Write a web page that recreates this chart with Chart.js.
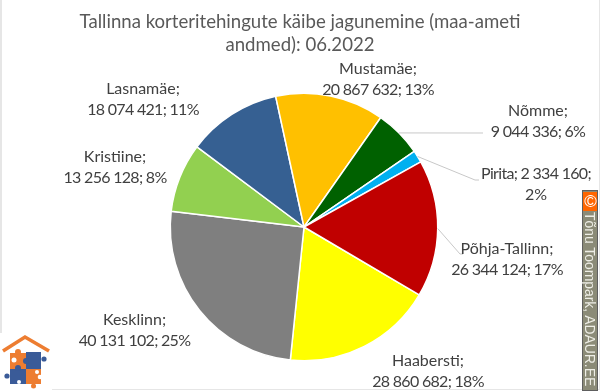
<!DOCTYPE html>
<html>
<head>
<meta charset="utf-8">
<script src="https://cdn.jsdelivr.net/npm/chart.js@4"></script>
<style>
  html, body { margin: 0; padding: 0; background: #fff; }
  #wrap { position: relative; width: 600px; height: 392px; overflow: hidden; }
  #frame { position: absolute; left: 0; top: 0; width: 597px; height: 389px; border-left: 2px solid #e6e6e6; border-right: 1px solid #e6e6e6; border-bottom: 1px solid #e6e6e6; pointer-events: none; }
  #logo { position: absolute; left: 0; top: 333px; }
  #strip { position: absolute; left: 582px; top: 190px; width: 14px; height: 199px; border: 1px solid #5f5f5f; background: #8b8b77; }
  #strip .mark { position: absolute; left: 0; top: 1px; width: 14px; height: 19px; background: #ff6600; color: #fff; font: 17px/14px "Liberation Sans", sans-serif; writing-mode: vertical-rl; text-align: center; }
  #strip .name { position: absolute; left: 0; top: 21px; width: 14px; height: 178px; color: #eeeee6; font: 13.9px/14px "Liberation Sans", sans-serif; writing-mode: vertical-rl; white-space: nowrap; }
</style>
</head>
<body>
<div id="wrap">
  <canvas id="chart" width="600" height="392"></canvas>
  <div id="frame"></div>
  <svg id="logo" width="52" height="58" viewBox="0 333 52 58">
    <rect x="0" y="333" width="52" height="58" fill="#fff"/>
    <polyline points="3,351 25,337 49,351" fill="none" stroke="#ed7d31" stroke-width="3.6"/>
    <g fill="#ed7d31">
      <rect x="10" y="353" width="16" height="16"/>
      <rect x="26" y="369" width="15" height="15"/>
      <circle cx="18" cy="352" r="3"/>
      <circle cx="26" cy="373" r="3"/>
      <circle cx="33.500" cy="386" r="2.500"/>
    </g>
    <g fill="#3a5b98">
      <rect x="26" y="352" width="15" height="17"/>
      <rect x="10" y="369" width="16" height="15"/>
      <circle cx="44" cy="359" r="2.600"/>
      <circle cx="7" cy="376" r="2.600"/>
      <circle cx="18" cy="368" r="3"/>
      <circle cx="26" cy="361" r="3"/>
    </g>
    <circle cx="14" cy="360" r="2.500" fill="#fff"/>
    <circle cx="37" cy="372" r="2" fill="#fff"/>
    <circle cx="40" cy="377" r="2.300" fill="#fff"/>
    <circle cx="19" cy="382" r="2" fill="#fff"/>
  </svg>
  <div id="strip"><div class="mark">©</div><div class="name">Tõnu Toompark, ADAUR.EE</div></div>
</div>
<script>
// Tallinna korteritehingute käibe jagunemine 06.2022
const kategooriad = ['Haabersti', 'Kesklinn', 'Kristiine', 'Lasnamäe', 'Mustamäe', 'Nõmme', 'Pirita', 'Põhja-Tallinn'];
const kaibed = [28860682, 40131102, 13256128, 18074421, 20867632, 9044336, 2334160, 26344124];
const protsendid = ['18%', '25%', '8%', '11%', '13%', '6%', '2%', '17%'];
const varvid = ['#ffff00', '#7f7f7f', '#92d050', '#366092', '#ffc000', '#006100', '#00b0f0', '#c00000'];

// Sildi keskpunkt (x, y esimene rida) ja reamurdmine
const sildid = [
    { x: 428, y: 361, read: v => [v.nimi + ';', v.summa + '; ' + v.pr] },
    { x: 134.5, y: 320, read: v => [v.nimi + ';', v.summa + '; ' + v.pr] },
    { x: 115, y: 157, read: v => [v.nimi + ';', v.summa + '; ' + v.pr] },
    { x: 143, y: 89, read: v => [v.nimi + ';', v.summa + '; ' + v.pr] },
    { x: 378, y: 69, read: v => [v.nimi + ';', v.summa + '; ' + v.pr] },
    { x: 538, y: 111, read: v => [v.nimi + ';', v.summa + '; ' + v.pr], joon: [[483, 133]] },
    { x: 536, y: 174, read: v => [v.nimi + '; ' + v.summa + ';', v.pr], joon: [[475, 180], [479, 180]] },
    { x: 507, y: 249, read: v => [v.nimi + ';', v.summa + '; ' + v.pr], joon: [[460, 254], [463, 254]] }
];

function vormindaSumma(n) {
    return String(n).replace(/\B(?=(\d{3})+$)/g, ' ');
}

// Sildid ja juhtjooned sektorite kohale
const sildiPlugin = {
    id: 'sildid',
    afterLayout(chart) {
        // pealkiri on kogu lõuendi keskel, mitte ringi keskel
        chart.titleBlock.left = 0;
        chart.titleBlock.right = chart.width;
    },
    afterDatasetsDraw(chart) {
        const ctx = chart.ctx;
        const kaared = chart.getDatasetMeta(0).data;
        ctx.save();
        kaared.forEach(function(kaar, i) {
            const s = sildid[i];
            if (s.joon) {
                const p = kaar.getProps(['x', 'y', 'startAngle', 'endAngle', 'outerRadius'], true);
                const nurk = (p.startAngle + p.endAngle) / 2;
                ctx.beginPath();
                ctx.moveTo(p.x + Math.cos(nurk) * p.outerRadius, p.y + Math.sin(nurk) * p.outerRadius);
                s.joon.forEach(q => ctx.lineTo(q[0], q[1]));
                ctx.strokeStyle = '#c8c8c8';
                ctx.lineWidth = 1;
                ctx.stroke();
            }
            const read = s.read({ nimi: kategooriad[i], summa: vormindaSumma(kaibed[i]), pr: protsendid[i] });
            ctx.font = '16px Lato, sans-serif';
            ctx.fillStyle = '#404040';
            ctx.textAlign = 'center';
            ctx.textBaseline = 'middle';
            read.forEach(function(rida, r) {
                // Lato numbrid on laiemad kui originaalis
                ctx.letterSpacing = /\d{3}/.test(rida) ? '-0.7px' : '0px';
                ctx.fillText(rida, s.x, s.y + r * 21);
            });
        });
        ctx.restore();
    }
};

new Chart(document.getElementById('chart'), {
    type: 'pie',
    data: {
        labels: kategooriad,
        datasets: [{
            data: kaibed,
            backgroundColor: varvid,
            borderColor: '#ffffff',
            borderWidth: 1.5
        }]
    },
    options: {
        responsive: false,
        animation: false,
        rotation: 120.5,
        layout: { padding: { left: 8, right: 0, top: 0, bottom: 30.5 } },
        plugins: {
            legend: { display: false },
            tooltip: { enabled: false },
            title: {
                display: true,
                text: ['Tallinna korteritehingute käibe jagunemine (maa-ameti', 'andmed): 06.2022'],
                color: '#595959',
                font: { family: 'Lato, sans-serif', size: 18.6, weight: 'normal', lineHeight: 1.24 },
                padding: { top: 10, bottom: 36.4 }
            }
        }
    },
    plugins: [sildiPlugin]
});
</script>
</body>
</html>
